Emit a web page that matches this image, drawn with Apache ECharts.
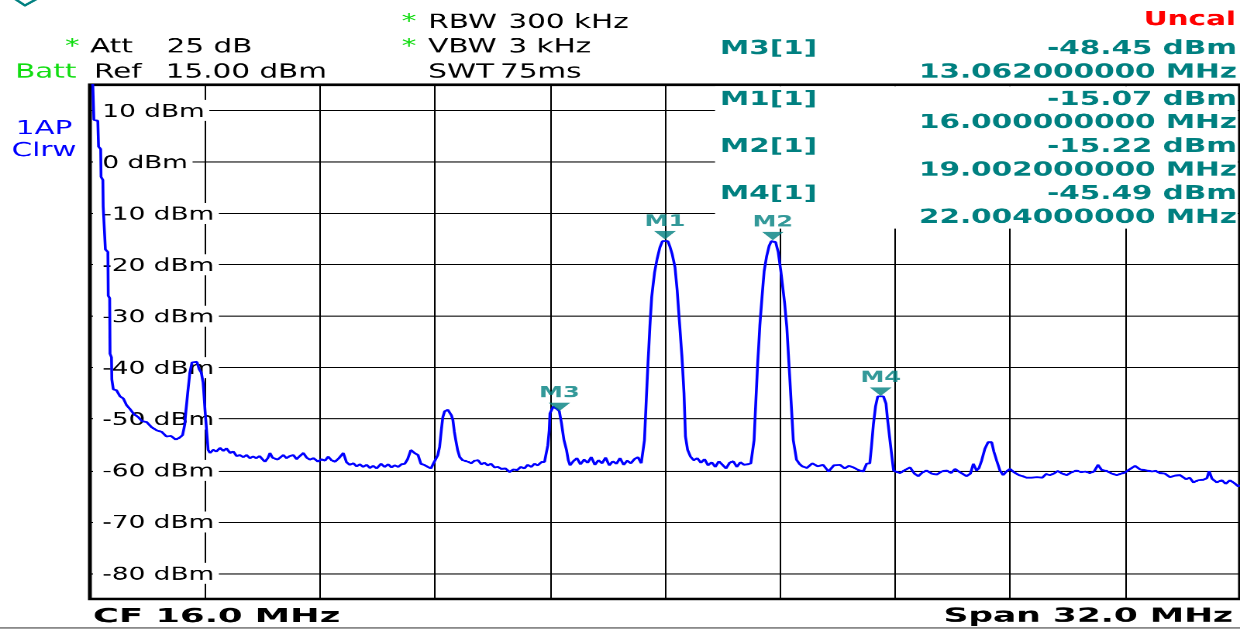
<!DOCTYPE html>
<html><head><meta charset="utf-8">
<script src="https://cdn.jsdelivr.net/npm/echarts@6/dist/echarts.min.js"></script>
<style>
html,body{margin:0;padding:0;background:#fff;overflow:hidden;width:1240px;height:629px;}
#chart{width:800px;height:600px;transform-origin:0 0;transform:scale(1.55,1.048333);}
</style></head><body><div id="chart"></div>
<script>
// Trace (frequency in MHz, level in dBm)
const freqMHz = [0.00,0.08,0.11,0.22,0.24,0.30,0.31,0.36,0.37,0.42,0.43,0.50,0.51,0.55,0.56,0.60,0.61,0.65,0.74,0.84,0.93,1.02,1.11,1.22,1.34,1.45,1.58,1.72,1.86,2.00,2.13,2.26,2.39,2.50,2.58,2.64,2.67,2.72,2.78,2.84,2.92,2.98,3.04,3.10,3.15,3.20,3.25,3.29,3.34,3.43,3.52,3.62,3.71,3.80,3.90,3.99,4.08,4.17,4.27,4.36,4.45,4.54,4.63,4.72,4.80,4.87,4.95,5.01,5.08,5.15,5.22,5.29,5.38,5.47,5.56,5.66,5.75,5.84,5.94,6.03,6.12,6.22,6.35,6.44,6.54,6.63,6.72,6.82,6.93,7.05,7.14,7.23,7.33,7.42,7.51,7.60,7.70,7.79,7.88,7.98,8.10,8.20,8.30,8.39,8.48,8.58,8.67,8.76,8.84,8.93,9.03,9.13,9.21,9.30,9.40,9.49,9.56,9.63,9.68,9.73,9.78,9.82,9.87,9.91,9.96,10.01,10.06,10.10,10.14,10.18,10.23,10.29,10.37,10.44,10.52,10.61,10.70,10.80,10.89,10.98,11.07,11.16,11.26,11.35,11.45,11.56,11.68,11.78,11.89,11.99,12.09,12.18,12.28,12.37,12.46,12.56,12.65,12.71,12.74,12.78,12.80,12.89,12.99,13.06,13.12,13.19,13.26,13.31,13.36,13.45,13.55,13.65,13.75,13.85,13.95,14.05,14.15,14.25,14.35,14.45,14.55,14.65,14.75,14.85,14.95,15.05,15.15,15.25,15.34,15.43,15.48,15.53,15.58,15.63,15.71,15.78,15.86,15.93,16.00,16.08,16.14,16.20,16.28,16.34,16.40,16.47,16.53,16.57,16.63,16.71,16.80,16.90,17.00,17.10,17.20,17.30,17.40,17.50,17.60,17.70,17.80,17.90,18.00,18.10,18.20,18.30,18.39,18.48,18.53,18.58,18.64,18.70,18.76,18.83,18.90,18.96,19.00,19.08,19.15,19.22,19.28,19.33,19.39,19.45,19.51,19.57,19.66,19.74,19.82,19.95,20.10,20.25,20.40,20.55,20.70,20.87,21.00,21.12,21.24,21.38,21.52,21.61,21.70,21.75,21.80,21.86,21.92,22.00,22.08,22.15,22.20,22.25,22.30,22.36,22.45,22.54,22.68,22.82,22.94,23.05,23.16,23.28,23.42,23.56,23.70,23.84,23.96,24.07,24.22,24.39,24.50,24.58,24.67,24.74,24.81,24.90,24.99,25.09,25.15,25.23,25.32,25.41,25.50,25.60,25.72,25.85,25.95,26.06,26.20,26.35,26.50,26.60,26.71,26.82,26.93,27.05,27.18,27.30,27.45,27.57,27.70,27.82,27.94,28.05,28.15,28.29,28.43,28.57,28.70,28.80,28.90,29.08,29.22,29.30,29.40,29.55,29.66,29.77,29.91,30.05,30.19,30.33,30.50,30.60,30.70,30.84,30.98,31.08,31.14,31.22,31.35,31.50,31.60,31.72,31.85,31.95,32.00];
const levelDbm = [20,15,8.2,8.0,3.0,2.5,-2.9,-3.5,-8.7,-9.0,-17.0,-17.5,-26.0,-26.5,-37.3,-38.0,-42.3,-44.2,-44.4,-45.6,-46.0,-47.3,-48.0,-49.0,-49.6,-50.4,-50.6,-51.6,-52.2,-52.5,-53.4,-53.3,-54.0,-53.6,-53.1,-51.0,-48.5,-45.0,-41.0,-39.0,-38.6,-38.9,-40.3,-41.0,-42.9,-48.0,-52.6,-56.0,-56.6,-56.0,-56.3,-55.6,-56.2,-55.7,-56.6,-56.3,-57.2,-57.0,-57.4,-57.0,-57.6,-57.3,-57.6,-57.2,-57.8,-58.3,-57.6,-56.6,-57.5,-57.1,-57.9,-57.9,-57.0,-57.6,-57.2,-57.0,-57.8,-57.2,-56.6,-57.5,-57.9,-57.6,-58.3,-57.8,-58.1,-57.3,-58.0,-58.3,-57.6,-56.6,-58.4,-58.9,-58.6,-59.2,-58.8,-59.3,-58.9,-59.5,-59.1,-59.6,-58.7,-59.3,-58.8,-59.4,-59.0,-59.3,-58.8,-58.7,-57.8,-56.0,-56.6,-57.0,-58.7,-58.9,-59.3,-59.6,-58.6,-57.7,-57.0,-55.4,-52.0,-49.6,-48.5,-48.3,-48.2,-48.6,-49.3,-50.2,-52.5,-54.1,-56.0,-57.4,-58.0,-57.7,-58.3,-58.6,-58.1,-58.0,-58.8,-58.5,-59.0,-58.7,-59.4,-59.3,-59.7,-59.6,-60.3,-59.8,-59.9,-59.3,-59.6,-58.9,-59.3,-58.7,-59.0,-58.4,-58.3,-58.0,-55.1,-52.2,-48.9,-47.6,-48.0,-48.45,-50.8,-54.1,-56.0,-58.0,-59.0,-58.2,-57.6,-58.8,-57.9,-58.5,-57.4,-58.9,-58.0,-58.6,-57.5,-59.0,-58.2,-58.7,-57.6,-58.9,-58.1,-58.6,-57.8,-57.4,-58.6,-54.1,-46.3,-38.9,-32.1,-26.3,-21.5,-18.9,-16.6,-15.4,-15.07,-15.4,-16.5,-17.9,-20.5,-25.0,-30.8,-37.6,-45.0,-53.4,-56.0,-57.3,-58.0,-57.6,-58.5,-57.8,-59.0,-58.4,-59.3,-58.2,-58.9,-59.6,-58.5,-58.2,-59.3,-58.4,-58.9,-58.8,-58.6,-54.1,-46.3,-39.2,-31.8,-26.3,-21.2,-18.3,-16.3,-15.4,-15.22,-15.6,-17.5,-21.0,-24.5,-27.5,-32.1,-39.2,-46.6,-54.1,-57.9,-58.7,-59.2,-59.5,-58.6,-59.2,-58.9,-60.2,-59.0,-58.9,-59.6,-59.1,-59.4,-59.9,-60.2,-58.7,-58.6,-55.0,-51.0,-47.5,-45.6,-45.49,-45.6,-47.0,-50.5,-53.5,-56.5,-60.0,-60.3,-60.5,-59.9,-59.4,-60.6,-61.1,-60.4,-60.0,-60.6,-60.8,-60.2,-60.0,-60.5,-59.7,-60.4,-61.1,-60.6,-58.7,-60.0,-59.5,-58.1,-55.8,-54.5,-54.5,-56.3,-58.1,-60.0,-60.9,-60.2,-59.7,-60.4,-60.9,-61.1,-61.4,-61.4,-61.3,-61.4,-60.7,-60.9,-60.6,-60.1,-60.6,-60.9,-60.4,-60.0,-60.3,-60.2,-60.5,-60.2,-58.9,-59.9,-60.1,-60.6,-60.9,-60.6,-60.4,-59.9,-59.1,-59.8,-59.5,-60.0,-60.2,-60.1,-60.5,-60.6,-61.3,-61.0,-60.9,-61.7,-61.4,-62.3,-61.9,-61.8,-61.5,-60.1,-61.6,-62.3,-61.9,-62.6,-61.9,-62.5,-63.1,-62.8];

// Axis ticks / labels
const yTicks = [10, 0, -10, -20, -30, -40, -50, -60, -70, -80];
const yUnit = ' dBm';

// Markers
const markerNames = ['M1', 'M2', 'M3', 'M4'];
const markerFreq = [16.0, 19.002, 13.062, 22.004];
const markerLevel = [-15.07, -15.22, -48.45, -45.49];
const tableOrder = ['M3', 'M1', 'M2', 'M4'];

// Header texts
const hdrAtt = ['Att', '25 dB'];
const hdrRef = ['Ref', '15.00 dBm'];
const hdrRbw = ['RBW', '300 kHz'];
const hdrVbw = ['VBW', '3 kHz'];
const hdrSwt = ['SWT', '75ms'];
const footCF = 'CF 16.0 MHz';
const footSpan = 'Span 32.0 MHz';

const TEAL = '#008080', GREEN = '#11dd11', BLUE = '#0000ff';
const FF = 'DejaVu Sans';

function txt(x, y, text, color, size, weight, align, sx) {
  align = align || 'left';
  return { type: 'text', x: x, y: y, z: 20, scaleX: sx || 1,
    style: { text: text, fill: color, fontSize: size, fontFamily: FF, fontWeight: weight || 'normal',
      textAlign: align, align: align, textVerticalAlign: 'middle', verticalAlign: 'middle' } };
}

const elements = [
  { type: 'polyline', z: 20, shape: { points: [[9.7, -1], [16.1, 5.2], [23.7, -1]] }, style: { stroke: TEAL, lineWidth: 2, fill: null } },
  { type: 'rect', z: 5, shape: { x: 461.3, y: 82.3, width: 337.2, height: 135.7 }, style: { fill: '#fff' } },
  { type: 'line', z: 20, shape: { x1: 0, y1: 599, x2: 800, y2: 599 }, style: { stroke: '#444', lineWidth: 1 } },
  txt(41.9, 45.0, '*', GREEN, 19),
  txt(58.1, 45.0, hdrAtt[0], '#000', 19),
  txt(107.5, 45.0, hdrAtt[1], '#000', 19),
  txt(9.7, 69.3, 'Batt', GREEN, 19),
  txt(60.6, 69.3, hdrRef[0], '#000', 19),
  txt(106.9, 69.3, hdrRef[1], '#000', 19),
  txt(259.1, 21.6, '*', GREEN, 19),
  txt(276.3, 21.6, hdrRbw[0], '#000', 19),
  txt(328.0, 21.6, hdrRbw[1], '#000', 19),
  txt(259.1, 44.9, '*', GREEN, 19),
  txt(276.3, 44.9, hdrVbw[0], '#000', 19),
  txt(328.0, 44.9, hdrVbw[1], '#000', 19),
  txt(276.3, 69.2, hdrSwt[0], '#000', 19),
  txt(322.6, 69.2, hdrSwt[1], '#000', 19),
  txt(797.4, 19.0, 'Uncal', '#ff0000', 19, 'bold', 'right'),
  txt(28.4, 123.0, '1AP', BLUE, 19, 'normal', 'center'),
  txt(28.4, 144.0, 'Clrw', BLUE, 19, 'normal', 'center'),
  txt(60.0, 588.8, footCF, '#000', 19, 'bold', 'left', 1.2),
  txt(795.5, 588.0, footSpan, '#000', 19, 'bold', 'right', 1.17)
];
const rowNameY = [46.6, 95.3, 140.1, 185.0];
const rowFreqY = [69.1, 117.2, 162.5, 207.8];
tableOrder.forEach(function (name, i) {
  const k = markerNames.indexOf(name);
  elements.push(txt(464.5, rowNameY[i], name + '[1]', TEAL, 19, 'bold'));
  elements.push(txt(798.0, rowNameY[i], markerLevel[k].toFixed(2) + ' dBm', TEAL, 19, 'bold', 'right'));
  elements.push(txt(798.0, rowFreqY[i], markerFreq[k].toFixed(9) + ' MHz', TEAL, 19, 'bold', 'right'));
});

const chart = echarts.init(document.getElementById('chart'), null, { renderer: 'canvas', devicePixelRatio: 2 });
chart.setOption({
  animation: false,
  backgroundColor: '#fff',
  grid: { left: 58, right: 0, top: 80.9, bottom: 28.6, show: true, borderColor: '#000', borderWidth: 2.5, backgroundColor: 'transparent' },
  xAxis: {
    type: 'value', min: 0, max: 32, interval: 3.2, z: 1,
    axisLine: { show: false }, axisTick: { show: false }, axisLabel: { show: false },
    splitLine: { show: true, lineStyle: { color: '#000', width: 1 } }
  },
  yAxis: {
    type: 'value', min: -85, max: 15, splitNumber: 10, z: 2,
    axisLine: { show: false }, axisTick: { show: false },
    axisLabel: {
      inside: true, margin: 2,
      formatter: function (v) { return yTicks.indexOf(v) >= 0 ? '{b|' + v + yUnit + '}' : ''; },
      rich: { b: { backgroundColor: '#fff', padding: [3, 3, 0, 6], color: '#000', fontSize: 17, fontFamily: FF } }
    },
    splitLine: { show: true, lineStyle: { color: '#000', width: 1 } }
  },
  series: [
    {
      type: 'line', z: 10, showSymbol: false, symbol: 'none', clip: true,
      data: freqMHz.map(function (f, i) { return [f, levelDbm[i]]; }),
      lineStyle: { color: BLUE, width: 1.8 }
    },
    {
      type: 'scatter', z: 11, clip: false,
      symbol: 'path://M0 0L20 0L10 8Z', symbolKeepAspect: false, symbolSize: [14, 8], symbolOffset: [0, '-50%'],
      itemStyle: { color: TEAL },
      label: { show: true, position: 'top', distance: 1, formatter: '{b}', color: TEAL, fontSize: 15.5, fontWeight: 'bold', fontFamily: FF },
      data: markerNames.map(function (n, i) { return { name: n, value: [markerFreq[i], markerLevel[i]] }; })
    }
  ],
  graphic: { elements: elements }
});
</script>
</body></html>
